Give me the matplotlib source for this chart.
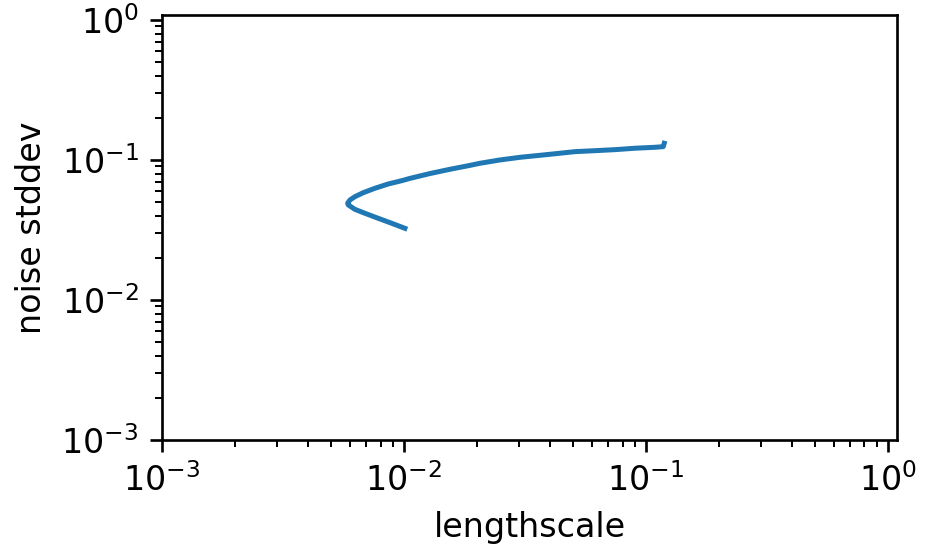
import matplotlib
matplotlib.use("Agg")
import matplotlib.pyplot as plt

# optimisation path (start at lengthscale 0.01)
lengthscale = [0.01009, 0.00890, 0.00783, 0.00690, 0.00627, 0.00589, 0.00585,
               0.00598, 0.00627, 0.00679, 0.00759, 0.00861, 0.00978, 0.01059,
               0.01281, 0.01549, 0.01874, 0.0206, 0.0249, 0.0302, 0.0365,
               0.0441, 0.0509, 0.0615, 0.0744, 0.0901, 0.1089, 0.1179, 0.1190]
noise_std = [0.0325, 0.0353, 0.0383, 0.0416, 0.0444, 0.0477, 0.0491,
             0.0518, 0.0547, 0.0584, 0.0628, 0.0674, 0.0711, 0.0739,
             0.0800, 0.0858, 0.0915, 0.0947, 0.1000, 0.1045, 0.1080,
             0.1117, 0.1147, 0.1165, 0.1185, 0.1213, 0.1232, 0.1245, 0.1316]

fig = plt.figure(figsize=(934 / 240, 555 / 240), dpi=240)
ax = fig.add_axes([162 / 934, 1 - 440 / 555, (897 - 162) / 934, (440 - 15) / 555])
ax.plot(lengthscale, noise_std, solid_joinstyle="round")
ax.set_xscale("log")
ax.set_yscale("log")
ax.set_xlim(1e-3, 1.09)
ax.set_ylim(1e-3, 1.085)
ax.set_xlabel("lengthscale")
ax.set_ylabel("noise stddev")
fig.savefig("out.png", dpi=240)
